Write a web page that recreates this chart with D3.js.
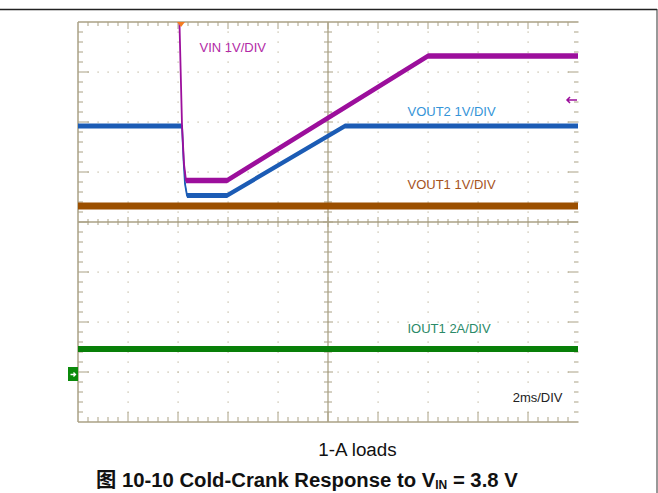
<!DOCTYPE html>
<html><head><meta charset="utf-8">
<script src="https://cdn.jsdelivr.net/npm/d3@7"></script>
<style>html,body{margin:0;padding:0;background:#fff;}svg{display:block;}</style>
</head><body>
<script>
// ---- data (time in ms, channel values in their own units) ----
const vinTime   = [0, 4.02, 4.06, 4.16, 4.24, 4.32, 5.96, 14.0, 20];
const vinVolts  = [12, 12, 7.0, 4.98, 4.2, 3.87, 3.87, 6.36, 6.36];
const vout2Time = [0, 4.16, 4.22, 4.28, 4.36, 5.96, 10.68, 20];
const vout2Volts= [4.96, 4.96, 4.3, 3.8, 3.57, 3.57, 4.96, 4.96];
const vout1Time = [0, 20];
const vout1Volts= [3.36, 3.36];
const iout1Time = [0, 20];
const iout1Amps = [1.0, 1.0];
const channelLabels = ["VIN 1V/DIV", "VOUT2 1V/DIV", "VOUT1 1V/DIV", "IOUT1 2A/DIV"];
const timebaseLabel = "2ms/DIV";
const subtitle = "1-A loads";

const W = 658, H = 493;
const svg = d3.select("body").append("svg").attr("width", W).attr("height", H);

const x = d3.scaleLinear().domain([0, 20]).range([78, 578]);
const yDiv = d3.scaleLinear().domain([-4, 4]).range([422, 22]);
const gnd = -3.04;
const ch = (perDiv) => v => yDiv(gnd + v / perDiv);

const gridCol = "#aaa184", dotCol = "#bdb59c";
const g = svg.append("g");

// page frame lines
g.append("line").attr("x1",0).attr("x2",657).attr("y1",9.5).attr("y2",9.5).attr("stroke","#222").attr("stroke-width",1.5);
g.append("line").attr("x1",657).attr("x2",657).attr("y1",9).attr("y2",H).attr("stroke","#333").attr("stroke-width",1);

// dotted grid
const majX = d3.range(1,10).filter(i=>i!==5).map(i=>x(i*2));
const majY = d3.range(-3,4).filter(i=>i!==0).map(i=>yDiv(i));
majX.forEach(px=>{ d3.range(1,40).forEach(k=>{ g.append("rect").attr("x",px-0.5).attr("y",22+10*k-0.5).attr("width",1.2).attr("height",1.2).attr("fill",dotCol); }); });
majY.forEach(py=>{ d3.range(1,50).forEach(k=>{ g.append("rect").attr("x",78+10*k-0.5).attr("y",py-0.5).attr("width",1.2).attr("height",1.2).attr("fill",dotCol); }); });

// center cross
g.append("line").attr("x1",x(10)).attr("x2",x(10)).attr("y1",22).attr("y2",422).attr("stroke",gridCol).attr("stroke-width",1.3);
g.append("line").attr("x1",78).attr("x2",578).attr("y1",yDiv(0)).attr("y2",yDiv(0)).attr("stroke",gridCol).attr("stroke-width",1.3);
d3.range(1,50).forEach(k=>{ const px=78+10*k, L = (k%5===0)?5:3;
  g.append("line").attr("x1",px).attr("x2",px).attr("y1",222-L).attr("y2",222+L).attr("stroke",gridCol).attr("stroke-width",1); });
d3.range(1,40).forEach(k=>{ const py=22+10*k, L = (k%5===0)?5:4;
  g.append("line").attr("x1",328-L).attr("x2",328+L).attr("y1",py).attr("y2",py).attr("stroke",gridCol).attr("stroke-width",1); });

// borders
g.append("line").attr("x1",78).attr("x2",578.5).attr("y1",22).attr("y2",22).attr("stroke",gridCol).attr("stroke-width",1.5);
g.append("line").attr("x1",78).attr("x2",578.5).attr("y1",422).attr("y2",422).attr("stroke",gridCol).attr("stroke-width",1.5);
g.append("line").attr("x1",78).attr("x2",78).attr("y1",22).attr("y2",422).attr("stroke",gridCol).attr("stroke-width",1.5);
// border ticks
d3.range(1,50).forEach(k=>{ const px=78+10*k, maj=k%5===0;
  g.append("line").attr("x1",px).attr("x2",px).attr("y1",22).attr("y2",maj?29:26).attr("stroke",gridCol).attr("stroke-width",1);
  g.append("line").attr("x1",px).attr("x2",px).attr("y1",422).attr("y2",maj?412:417).attr("stroke",gridCol).attr("stroke-width",1); });
d3.range(1,40).forEach(k=>{ const py=22+10*k, maj=k%5===0;
  g.append("line").attr("x1",78).attr("x2",maj?89:83).attr("y1",py).attr("y2",py).attr("stroke",gridCol).attr("stroke-width",1);
  g.append("line").attr("x1",578.5).attr("x2",maj?568:574).attr("y1",py).attr("y2",py).attr("stroke",gridCol).attr("stroke-width",1); });

// clip
svg.append("clipPath").attr("id","plotclip").append("rect").attr("x",78).attr("y",22).attr("width",501).attr("height",400);
const tr = svg.append("g").attr("clip-path","url(#plotclip)");
// scope trace: band of given vertical thickness, plus thin core line for steep edges
const mkTrace = (ts, vs, yf, col, band) => {
  const pts = ts.map((t,i)=>({t, v: vs[i]}));
  tr.append("path").attr("d", d3.area().x(d=>x(d.t)).y0(d=>yf(d.v)-band/2).y1(d=>yf(d.v)+band/2)(pts)).attr("fill",col);
  tr.append("path").attr("d", d3.line().x(d=>x(d.t)).y(d=>yf(d.v))(pts)).attr("fill","none").attr("stroke",col).attr("stroke-width",1.8);
};
mkTrace(vout1Time, vout1Volts, ch(1), "#9b4f00", 7);
mkTrace(iout1Time, iout1Amps, ch(2), "#087f08", 6);
mkTrace(vout2Time, vout2Volts, ch(1), "#1c5cb5", 5);
mkTrace(vinTime, vinVolts, ch(1), "#9c0f9c", 5.5);

// markers
svg.append("path").attr("d","M177,22 L185,22 L181,27 Z").attr("fill","#f47b22");
svg.append("rect").attr("x",68).attr("y",367).attr("width",10).attr("height",14).attr("fill","#0b8a0b");
svg.append("path").attr("d","M70.5,374.5 L75.5,374.5 M73.5,372.5 L75.5,374.5 L73.5,376.5").attr("stroke","#fff").attr("stroke-width",1.3).attr("fill","none");
svg.append("path").attr("d","M567,100 L577,100 M570,97 L567,100 L570,103").attr("stroke","#9c0f9c").attr("stroke-width",1.5).attr("fill","none");

// labels
const font = "'Liberation Sans', Arial, sans-serif";
const lab = (t, px, py, col, fs) => svg.append("text").attr("x",px).attr("y",py).attr("fill",col).attr("font-family",font).attr("font-size",fs).text(t);
lab(channelLabels[0], 199.5, 52.3, "#b22aa6", 13);
lab(channelLabels[1], 407.5, 116, "#3494d8", 13);
lab(channelLabels[2], 407.5, 189.3, "#a5531d", 13);
lab(channelLabels[3], 407.5, 333.3, "#2a8a68", 13);
lab(timebaseLabel, 512.7, 401.7, "#222", 13);
lab(subtitle, 318.3, 456, "#111", 18.8);

const cap = svg.append("text").attr("x",96).attr("y",486.5).attr("fill","#111").attr("font-family",font+", 'Noto Sans CJK SC'").attr("font-size",20.3).attr("font-weight","bold");
cap.append("tspan").attr("font-family","'Noto Sans CJK SC'").text("图");
cap.append("tspan").text(" 10-10  Cold-Crank Response to V");
cap.append("tspan").attr("font-size",12).attr("dy",2.5).text("IN");
cap.append("tspan").attr("dy",-2.5).text(" = 3.8 V");
</script>
</body></html>
